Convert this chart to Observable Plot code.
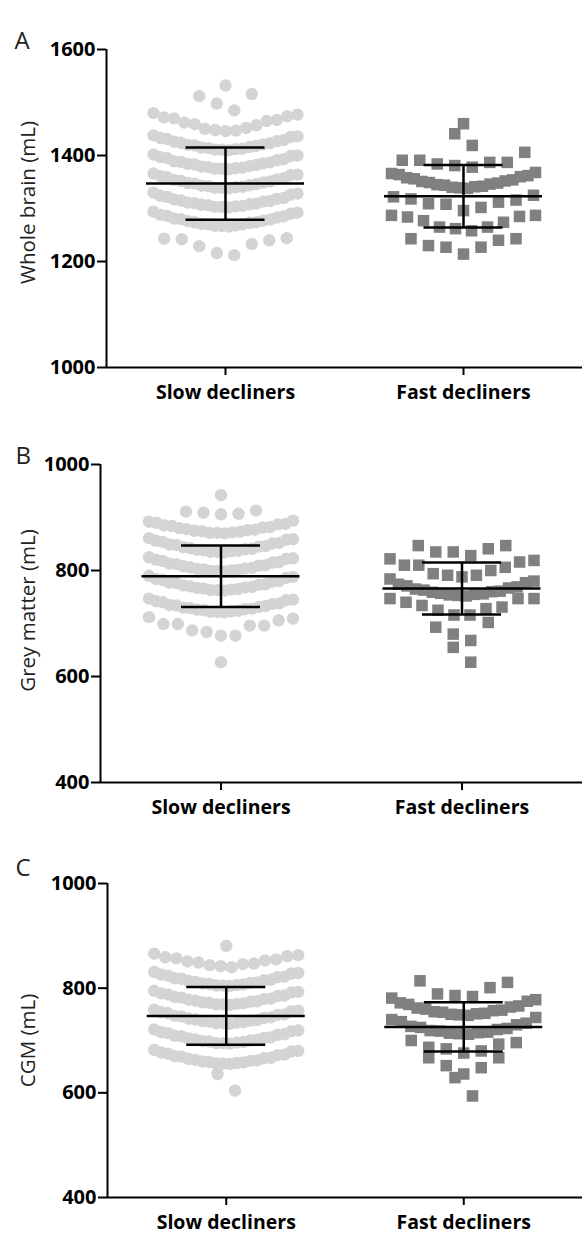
<!DOCTYPE html>
<html><head><meta charset="utf-8">
<script src="https://cdn.jsdelivr.net/npm/d3@7"></script>
<script src="https://cdn.jsdelivr.net/npm/@observablehq/plot@0.6"></script>
<style>body{margin:0;background:#fff;} #chart{width:582px;}</style>
</head><body><div id="chart"></div>
<script>
// ---------- data ----------
const groups = ["Slow decliners", "Fast decliners"];
const panelLetters = ["A", "B", "C"];
const yLabels = ["Whole brain (mL)", "Grey matter (mL)", "CGM (mL)"];
const yDomains = [[1000, 1600], [400, 1000], [400, 1000]];
const yTicks = [[1000, 1200, 1400, 1600], [400, 600, 800, 1000], [400, 600, 800, 1000]];

const slowWhole = [
  1212, 1216, 1229, 1233, 1240, 1242, 1243, 1244,
  1266, 1267, 1267, 1268, 1270, 1270, 1271, 1273, 1274, 1274, 1276, 1277, 1279, 1280, 1281, 1283, 1285, 1286, 1288, 1290, 1292, 1294,
  1302, 1303, 1303, 1304, 1305, 1306, 1307, 1308, 1309, 1310, 1311, 1313, 1314, 1315, 1317, 1318, 1320, 1322, 1324, 1326, 1328, 1330,
  1338, 1339, 1339, 1340, 1341, 1342, 1343, 1344, 1346, 1347, 1348, 1349, 1351, 1352, 1354, 1355, 1357, 1359, 1361, 1363, 1364, 1366,
  1374, 1375, 1375, 1376, 1377, 1378, 1379, 1380, 1382, 1383, 1384, 1385, 1387, 1388, 1389, 1391, 1393, 1395, 1397, 1399, 1400, 1402,
  1410, 1411, 1411, 1412, 1413, 1414, 1415, 1416, 1418, 1419, 1420, 1421, 1423, 1424, 1426, 1427, 1429, 1431, 1433, 1435, 1436, 1438,
  1446, 1447, 1448, 1450, 1452, 1457, 1459, 1462, 1465, 1467, 1470, 1472, 1474, 1477, 1480,
  1485, 1498, 1512, 1516,
  1532
];
const fastWhole = [
  1214, 1227, 1227, 1230, 1240, 1243, 1243,
  1258, 1262, 1265, 1265, 1274, 1277, 1284, 1285, 1287, 1287,
  1296, 1302, 1308, 1309, 1312, 1316, 1318, 1322, 1325,
  1338, 1339, 1340, 1341, 1342, 1344, 1345, 1346, 1348, 1349, 1351, 1352, 1354, 1356, 1358, 1360, 1362, 1364, 1366, 1368,
  1378, 1381, 1384, 1387, 1387, 1391, 1391, 1406,
  1419, 1441,
  1460
];
const slowGrey = [
  627,
  677, 677, 684, 687, 696, 696, 699, 699, 706, 709, 712,
  721, 722, 722, 723, 724, 725, 726, 727, 728, 729, 730, 731, 733, 734, 735, 737, 738, 740, 742, 744, 745, 747,
  762, 763, 763, 764, 765, 766, 767, 768, 769, 770, 772, 773, 774, 776, 777, 779, 780, 782, 784, 786, 788, 790,
  798, 799, 799, 800, 801, 802, 803, 804, 805, 806, 808, 809, 810, 812, 813, 815, 816, 818, 820, 822, 823, 825,
  834, 835, 835, 836, 837, 838, 839, 840, 841, 842, 844, 845, 846, 848, 849, 851, 852, 854, 856, 858, 859, 861,
  870, 871, 871, 872, 873, 874, 875, 876, 877, 878, 880, 881, 882, 884, 885, 887, 888, 890, 892, 894,
  906, 907, 909, 911, 913,
  942
];
const fastGrey = [
  627, 655,
  668, 680, 693, 702,
  716, 716, 725, 728, 731, 734, 740, 747, 747, 747,
  752, 753, 754, 755, 756, 757, 759, 760, 761, 763, 765, 767, 769, 771, 774, 777, 780, 784,
  788, 791, 791, 794, 800, 806, 810, 810, 816, 819, 822,
  828, 835, 835, 841, 847, 847
];
const slowCGM = [
  604, 636,
  655, 656, 656, 657, 658, 659, 660, 661, 662, 663, 665, 666, 667, 669, 670, 672, 673, 675, 677, 679, 680, 682,
  694, 695, 695, 696, 697, 698, 699, 700, 701, 702, 704, 705, 706, 708, 709, 711, 712, 714, 716, 718, 719, 721,
  732, 733, 733, 734, 735, 736, 737, 738, 739, 740, 742, 743, 744, 746, 747, 749, 750, 752, 754, 756, 757, 759,
  768, 769, 769, 770, 771, 772, 773, 774, 775, 776, 778, 779, 780, 782, 783, 785, 786, 788, 790, 792, 793, 795,
  804, 805, 805, 806, 807, 808, 809, 810, 811, 812, 814, 815, 816, 818, 819, 821, 822, 824, 826, 828, 829, 831,
  840, 842, 844, 846, 847, 849, 851, 853, 855, 857, 859, 861, 863, 866,
  881
];
const fastCGM = [
  594, 629,
  636, 648, 652, 667, 667,
  676, 680, 684, 687, 693, 696, 700,
  712, 713, 714, 715, 716, 718, 719, 721, 723, 725, 727, 730, 733, 736, 740, 744,
  748, 749, 750, 751, 752, 754, 755, 757, 758, 760, 762, 764, 766, 769, 772, 775, 778, 781,
  784, 786, 789, 801, 811, 814
];
// mean and SD (slow, fast)
const meanWhole = [1347, 1323], sdWhole = [68, 59];
const meanGrey = [789, 766], sdGrey = [58, 49];
const meanCGM = [747, 726], sdCGM = [55, 47];

// ---------- layout ----------
const W = 582;
const FONT = "'Open Sans', Lato, sans-serif";
const panels = [
  {slow: slowWhole, fast: fastWhole, mean: meanWhole, sd: sdWhole, height: 417, mt: 49, mb: 50, ml: 106, labelDy: -6, letterX: 14, letterDy: -1},
  {slow: slowGrey, fast: fastGrey, mean: meanGrey, sd: sdGrey, height: 418, mt: 47, mb: 53, ml: 100, labelDy: -13, letterX: 15, letterDy: -1},
  {slow: slowCGM, fast: fastCGM, mean: meanCGM, sd: sdCGM, height: 401, mt: 48, mb: 39, ml: 107, labelDy: 0, letterX: 15, letterDy: -8}
];

// Column-scatter arrangement: values grouped into rows, lowest value in the centre, spreading outwards
function swarm(values, gi, ppu) {
  const BIN = 36, MAXSTEP = 17.5, SPAN = 144;
  const sorted = [...values].sort(d3.ascending);
  const rows = [];
  for (const v of sorted) {
    const last = rows[rows.length - 1];
    if (!last || v >= last.start + BIN) rows.push({start: v, vals: [v]});
    else last.vals.push(v);
  }
  const out = [];
  for (const {vals} of rows) {
    const n = vals.length;
    const step = n > 1 ? Math.min(MAXSTEP, SPAN / (n - 1)) : 0;
    const slots = [];
    if (n % 2) {
      slots.push(0);
      for (let k = 1; slots.length < n; k++) { const s = k % 2 ? 1 : -1; slots.push(s * k * step, -s * k * step); }
    } else {
      for (let k = 0; slots.length < n; k++) { const p = (k + 0.5) * step; const s = k % 2 ? -1 : 1; slots.push(s * p, -s * p); }
    }
    vals.forEach((v, i) => out.push({group: groups[gi], value: v, x: gi + slots[i] / ppu}));
  }
  return out;
}

const chart = document.getElementById("chart");
panels.forEach((p, pi) => {
  const ppu = (W - p.ml) / 2; // pixels per x unit
  const slowPts = swarm(p.slow, 0, ppu);
  const fastPts = swarm(p.fast, 1, ppu);
  const stats = groups.map((g, i) => ({i, mean: p.mean[i], sd: p.sd[i]}));
  const svg = Plot.plot({
    width: W, height: p.height,
    marginLeft: p.ml, marginRight: 0, marginTop: p.mt, marginBottom: p.mb,
    style: {fontFamily: FONT, color: "black", background: "white"},
    x: {domain: [-0.5, 1.5], axis: null},
    y: {domain: yDomains[pi], axis: null},
    marks: [
      Plot.dot(slowPts, {x: "x", y: "value", r: 6.2, fill: "#d4d4d4"}),
      Plot.dot(fastPts, {x: "x", y: "value", r: 6.5, symbol: "square", fill: "#808080"}),
      Plot.ruleY(stats, {y: "mean", x1: d => d.i - 79 / ppu, x2: d => d.i + 79 / ppu, stroke: "black", strokeWidth: 2.5}),
      Plot.ruleY(stats, {y: d => d.mean + d.sd, x1: d => d.i - 39.5 / ppu, x2: d => d.i + 39.5 / ppu, stroke: "black", strokeWidth: 2.5}),
      Plot.ruleY(stats, {y: d => d.mean - d.sd, x1: d => d.i - 39.5 / ppu, x2: d => d.i + 39.5 / ppu, stroke: "black", strokeWidth: 2.5}),
      Plot.ruleX(stats, {x: "i", y1: d => d.mean - d.sd, y2: d => d.mean + d.sd, stroke: "black", strokeWidth: 2.5}),
      Plot.ruleX([-0.5], {stroke: "black", strokeWidth: 2}),
      Plot.ruleY([yDomains[pi][0]], {stroke: "black", strokeWidth: 2}),
      Plot.axisY({ticks: yTicks[pi], tickFormat: d => String(d), tickSize: 9, tickPadding: 2, strokeWidth: 2,
        fontSize: 20, fontWeight: "bold", label: null}),
      Plot.axisX({ticks: [0, 1], tickFormat: i => groups[i], tickSize: 8, tickPadding: 10, strokeWidth: 2,
        fontSize: 19.5, fontWeight: "bold", label: null}),
      Plot.text([yLabels[pi]], {frameAnchor: "left", rotate: -90, textAnchor: "middle", dx: 27.5 - p.ml, dy: p.labelDy,
        fontSize: 20.5, fill: "#222"}),
      Plot.text([panelLetters[pi]], {frameAnchor: "top-left", dx: p.letterX - p.ml, dy: p.letterDy,
        lineAnchor: "bottom", textAnchor: "start", fontSize: 24, fill: "#222"})
    ]
  });
  chart.appendChild(svg);
});
</script>
</body></html>
